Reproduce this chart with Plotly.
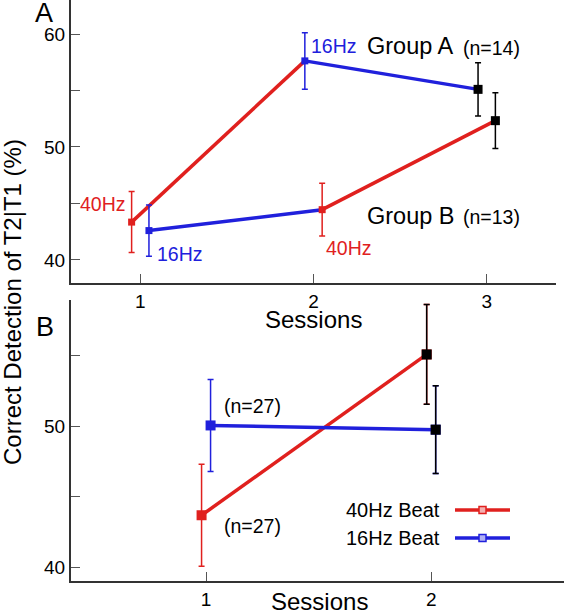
import plotly.graph_objects as go

# ---------------- data ----------------
sessions_top = [1, 2, 3]
groupA_mean = [43.35, 57.62, 55.10]
groupA_err = [2.70, 2.50, 2.36]
groupA_beat = ["40Hz", "16Hz", "none"]
groupB_mean = [42.60, 44.45, 52.33]
groupB_err = [2.27, 2.33, 2.47]
groupB_beat = ["16Hz", "40Hz", "none"]

sessions_bot = [1, 2]
beat40_mean = [43.70, 55.07]
beat40_err = [3.60, 3.53]
beat16_mean = [50.05, 49.75]
beat16_err = [3.25, 3.10]
bot_marker_beat40 = ["40Hz", "none"]
bot_marker_beat16 = ["16Hz", "none"]

top_ticks = [1, 2, 3]
bot_ticks = [1, 2]
y_ticks = [40, 50, 60]

RED = "#e0201e"
BLUE = "#2020dc"
BLACK = "#000000"
COLOR = {"40Hz": RED, "16Hz": BLUE, "none": BLACK}
FONT = "Liberation Sans, Arial, Helvetica, sans-serif"

W, H = 564, 611
ML, MR, MT, MB = 71, 0, 0, 30
PW, PH = W - ML - MR, H - MT - MB


def px(x):
    return (x - ML) / PW


def py(y):
    return (PH - y) / PH


fig = go.Figure()


def add_group(xs, ys, errs, beats, xaxis, yaxis, msize_col, msize_blk, capw):
    for i in range(len(xs) - 1):
        fig.add_trace(go.Scatter(
            x=[xs[i], xs[i + 1]], y=[ys[i], ys[i + 1]], mode="lines",
            line=dict(color=COLOR[beats[i]], width=3.5),
            xaxis=xaxis, yaxis=yaxis, showlegend=False, hoverinfo="skip"))
    for b in ["40Hz", "16Hz", "none"]:
        idx = [i for i in range(len(xs)) if beats[i] == b]
        if not idx:
            continue
        fig.add_trace(go.Scatter(
            x=[xs[i] for i in idx], y=[ys[i] for i in idx], mode="markers",
            marker=dict(symbol="square", color=COLOR[b],
                        size=msize_blk if b == "none" else msize_col,
                        line=dict(width=0)),
            error_y=dict(type="data", array=[errs[i] for i in idx],
                         color=COLOR[b], thickness=1.5, width=capw),
            xaxis=xaxis, yaxis=yaxis, showlegend=False))


add_group([s - 0.05 for s in sessions_top], groupA_mean, groupA_err, groupA_beat,
          "x", "y", 7, 9, 3)
add_group([s + 0.05 for s in sessions_top], groupB_mean, groupB_err, groupB_beat,
          "x", "y", 7, 9, 3)

add_group([s - 0.02 for s in sessions_bot], beat40_mean, beat40_err,
          ["40Hz", "40Hz"], "x2", "y2", 10, 10, 3)
add_group([s + 0.02 for s in sessions_bot], beat16_mean, beat16_err,
          ["16Hz", "16Hz"], "x2", "y2", 10, 10, 3)
for xs, ys, errs, mb in [([s - 0.02 for s in sessions_bot], beat40_mean, beat40_err, bot_marker_beat40),
                         ([s + 0.02 for s in sessions_bot], beat16_mean, beat16_err, bot_marker_beat16)]:
    idx = [i for i in range(len(xs)) if mb[i] == "none"]
    fig.add_trace(go.Scatter(
        x=[xs[i] for i in idx], y=[ys[i] for i in idx], mode="markers",
        marker=dict(symbol="square", color=BLACK, size=10, line=dict(width=0)),
        error_y=dict(type="data", array=[errs[i] for i in idx],
                     color=BLACK, thickness=1.5, width=3),
        xaxis="x2", yaxis="y2", showlegend=False))

axis_common = dict(
    showline=True, linecolor="#333333", linewidth=2, mirror=False,
    showgrid=False, zeroline=False, ticks="inside", ticklen=9,
    tickwidth=1, tickcolor="#555555",
    tickfont=dict(family=FONT, size=19, color="#000000"),
)

fig.update_layout(
    width=W, height=H,
    margin=dict(l=ML, r=MR, t=MT, b=MB),
    paper_bgcolor="white", plot_bgcolor="white",
    showlegend=False,
    xaxis=dict(axis_common, domain=[0, px(556)], range=[0.6, 3.4],
               tickvals=top_ticks, anchor="y"),
    yaxis=dict(axis_common, domain=[py(283), 1.0], range=[37.96, 63.01],
               tickvals=y_ticks, anchor="x",
               minor=dict(dtick=5, ticks="inside", ticklen=9, tickcolor="#555555")),
    xaxis2=dict(axis_common, domain=[0, 1.0], range=[0.4, 2.59],
                tickvals=bot_ticks, anchor="y2"),
    yaxis2=dict(axis_common, domain=[0, py(300)], range=[39.05, 58.92],
                tickvals=y_ticks[:2], anchor="x2",
                minor=dict(dtick=5, ticks="inside", ticklen=9, tickcolor="#555555")),
)

ann = []


def text(t, x, y, size, color="#000000", xanchor="left", angle=0):
    ann.append(dict(text=t, x=px(x), y=py(y), xref="paper", yref="paper",
                    xanchor=xanchor, yanchor="middle", showarrow=False,
                    textangle=angle,
                    font=dict(family=FONT, size=size, color=color)))


text("A", 33, 13, 27)
text("B", 34, 327, 27)
text("40Hz", 78, 204, 19.5, RED)
text("16Hz", 155, 254, 19.5, BLUE)
text("16Hz", 309, 46, 19.5, BLUE)
text("40Hz", 324, 248, 19.5, RED)
text("Group A", 365, 46, 23.5)
text("(n=14)", 461, 48, 19.5)
text("Group B", 365, 216, 23.5)
text("(n=13)", 461, 217, 19.5)
text("Sessions", 313.5, 319, 24, xanchor="center")
text("Sessions", 319, 601, 24, xanchor="center")
text("Correct Detection of T2|T1 (%)", 12, 302, 24, xanchor="center", angle=-90)
text("(n=27)", 222, 406, 19.5)
text("(n=27)", 222, 526, 19.5)
text("40Hz Beat", 442, 510, 20, xanchor="right")
text("16Hz Beat", 442, 538, 20, xanchor="right")
fig.update_layout(annotations=ann)

shapes = []
for yy, col, light in [(510, RED, "#f4b0b0"), (538, BLUE, "#b0b0f4")]:
    shapes.append(dict(type="line", xref="paper", yref="paper",
                       x0=px(455), x1=px(510), y0=py(yy), y1=py(yy),
                       line=dict(color=col, width=3.5)))
    shapes.append(dict(type="rect", xref="paper", yref="paper",
                       x0=px(479), x1=px(486), y0=py(yy - 3.5), y1=py(yy + 3.5),
                       line=dict(color=col, width=1.5), fillcolor=light))
fig.update_layout(shapes=shapes)

fig.write_html("out.html",
               config={"displayModeBar": False},
               post_script="document.body.style.margin='0px';"
                           "document.body.style.overflow='hidden';")
